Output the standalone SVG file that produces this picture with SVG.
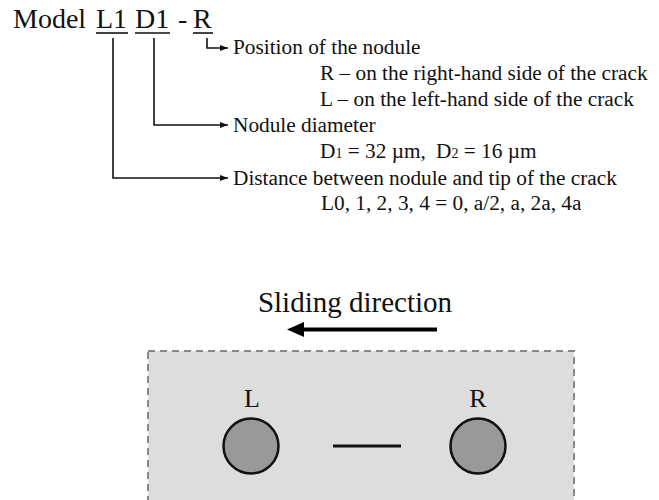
<svg xmlns="http://www.w3.org/2000/svg" width="659" height="500" viewBox="0 0 659 500">
  <style>
    .t { font-family: "Liberation Serif", "Times New Roman", serif; fill: #111; }
    .title { font-size: 28px; }
    .body { font-size: 21.3px; }
    .big { font-size: 29px; }
    .lbl { font-size: 26px; }
    .ln { stroke: #111; stroke-width: 1.6; fill: none; }
    .nod { fill: #999999; stroke: #111; stroke-width: 2.5; }
  </style>
  <defs>
    <marker id="ah" viewBox="0 0 8 6" refX="8" refY="3" markerWidth="8" markerHeight="6" markerUnits="userSpaceOnUse" orient="auto">
      <path d="M0,0 L8,3 L0,6 Z" fill="#111"/>
    </marker>
  </defs>

  <g id="title">
    <text class="t title" x="13" y="28">Model</text>
    <text class="t title" x="96" y="28">L1</text>
    <text class="t title" x="135" y="28">D1</text>
    <text class="t title" x="178" y="28">-</text>
    <text class="t title" x="193" y="28">R</text>
    <line class="ln" x1="96" y1="33" x2="128" y2="33"/>
    <line class="ln" x1="135" y1="33" x2="170" y2="33"/>
    <line class="ln" x1="193" y1="33" x2="213" y2="33"/>
  </g>

  <g id="connectors">
    <polyline class="ln" points="207,38 207,48 228,48" marker-end="url(#ah)"/>
    <polyline class="ln" points="154,38 154,125 228,125" marker-end="url(#ah)"/>
    <polyline class="ln" points="113,38 113,178 228,178" marker-end="url(#ah)"/>
  </g>

  <g id="position">
    <text class="t body" x="233" y="54">Position of the nodule</text>
    <text class="t body" x="320" y="80">R – on the right-hand side of the crack</text>
    <text class="t body" x="320" y="106">L – on the left-hand side of the crack</text>
  </g>

  <g id="diameter">
    <text class="t body" x="233" y="132">Nodule diameter</text>
    <text class="t body" x="320" y="158">D<tspan font-size="14">1</tspan> = 32 µm,</text>
    <text class="t body" x="436" y="158">D<tspan font-size="14">2</tspan> = 16 µm</text>
  </g>

  <g id="distance">
    <text class="t body" x="233" y="185">Distance between nodule and tip of the crack</text>
    <text class="t body" x="321" y="210">L0, 1, 2, 3, 4 = 0, a/2, a, 2a, 4a</text>
  </g>

  <g id="sliding">
    <text class="t big" x="355" y="312" text-anchor="middle">Sliding direction</text>
    <line x1="437" y1="329.5" x2="300" y2="329.5" stroke="#000" stroke-width="4"/>
    <polygon points="287,329.5 304,322 304,337" fill="#000"/>
  </g>

  <g id="specimen">
    <rect x="148" y="351" width="426" height="160" fill="#dddddd" stroke="#888" stroke-width="2" stroke-dasharray="7,5"/>
    <text class="t lbl" x="252" y="407" text-anchor="middle">L</text>
    <text class="t lbl" x="478" y="407" text-anchor="middle">R</text>
    <circle class="nod" cx="251" cy="446" r="27.5"/>
    <circle class="nod" cx="478" cy="446" r="27.5"/>
    <line x1="333" y1="446" x2="401" y2="446" stroke="#111" stroke-width="3"/>
  </g>
</svg>
